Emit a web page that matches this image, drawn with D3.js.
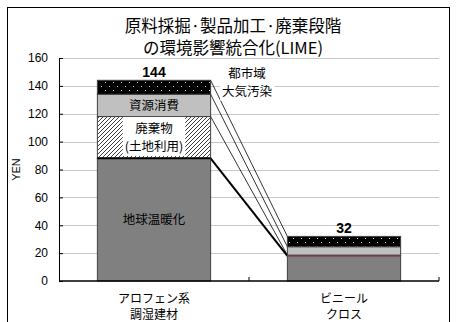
<!DOCTYPE html>
<html lang="ja">
<head>
  <meta charset="UTF-8">
  <title>LIME</title>
  <style>
    html, body { margin: 0; padding: 0; background: #fff; overflow: hidden; }
    svg { display: block; }
  </style>
</head>
<body>
  <svg id="chart" width="456" height="322"></svg>

  <script src="https://cdnjs.cloudflare.com/ajax/libs/d3/7.8.5/d3.min.js"></script>
  <script>
    // --- data ---
    const categories = ["アロフェン系\n調湿建材", "ビニール\nクロス"];
    const seriesNames = ["地球温暖化", "廃棄物\n(土地利用)", "資源消費", "都市域\n大気汚染"];
    const warming   = [88, 18];
    const waste     = [30, 0.6];
    const resources = [16, 6];
    const airPoll   = [10, 7.4];
    const totals    = [144, 32];
    const yTicks    = [0, 20, 40, 60, 80, 100, 120, 140, 160];

    const JP = "'Noto Sans CJK JP', sans-serif";
    const NUM = "'Liberation Sans', Arial, sans-serif";

    const W = 456, H = 322;
    const margin = { left: 59, right: 17, top: 58, bottom: 41 };

    const svg = d3.select("#chart");
    const defs = svg.append("defs");

    // hatch for 廃棄物
    const hatch = defs.append("pattern")
      .attr("id", "hatch").attr("patternUnits", "userSpaceOnUse")
      .attr("width", 4).attr("height", 4);
    hatch.append("rect").attr("width", 4).attr("height", 4).attr("fill", "#fff");
    hatch.append("path").attr("d", "M-1,1 l2,-2 M0,4 l4,-4 M3,5 l2,-2")
      .attr("stroke", "#404040").attr("stroke-width", 1);

    // dotted black for 大気汚染
    const dots = defs.append("pattern")
      .attr("id", "dots").attr("patternUnits", "userSpaceOnUse")
      .attr("width", 8).attr("height", 8);
    dots.append("rect").attr("width", 8).attr("height", 8).attr("fill", "#000");
    dots.append("rect").attr("x", 1).attr("y", 2).attr("width", 1).attr("height", 1).attr("fill", "#ddd");
    dots.append("rect").attr("x", 5).attr("y", 6).attr("width", 1).attr("height", 1).attr("fill", "#ddd");

    const fills = ["#808080", "url(#hatch)", "#c0c0c0", "url(#dots)"];

    // outer frame
    svg.append("rect")
      .attr("x", 7.5).attr("y", 7.5).attr("width", 442).attr("height", 330)
      .attr("fill", "none").attr("stroke", "#000").attr("stroke-width", 1);

    const x = d3.scaleBand()
      .domain(categories)
      .range([margin.left, W - margin.right])
      .paddingInner(0.404).paddingOuter(0.202);

    const y = d3.scaleLinear()
      .domain([0, 160])
      .range([H - margin.bottom, margin.top]);

    // gridlines
    svg.append("g")
      .selectAll("line")
      .data(yTicks.filter(d => d > 0))
      .join("line")
      .attr("x1", margin.left).attr("x2", W - margin.right)
      .attr("y1", d => Math.round(y(d)) + 0.5).attr("y2", d => Math.round(y(d)) + 0.5)
      .attr("stroke", "#c8c8c8").attr("stroke-width", 1);

    // stack
    const table = categories.map((c, i) => ({
      cat: c, s0: warming[i], s1: waste[i], s2: resources[i], s3: airPoll[i]
    }));
    const keys = ["s0", "s1", "s2", "s3"];
    const stacked = d3.stack().keys(keys)(table);

    // series lines (between the two bars)
    const b0 = categories[0], b1 = categories[1];
    svg.append("g")
      .selectAll("line")
      .data(stacked)
      .join("line")
      .attr("x1", x(b0) + x.bandwidth()).attr("y1", s => y(s[0][1]))
      .attr("x2", x(b1)).attr("y2", s => y(s[1][1]))
      .attr("stroke", "#000")
      .attr("stroke-width", (s, i) => i === 0 ? 2 : 0.8);

    // bars
    const gBars = svg.append("g");
    stacked.forEach((s, si) => {
      gBars.selectAll(null)
        .data(s)
        .join("rect")
        .attr("x", d => x(d.data.cat))
        .attr("y", d => y(d[1]))
        .attr("width", x.bandwidth())
        .attr("height", d => y(d[0]) - y(d[1]))
        .attr("fill", fills[si])
        .attr("stroke", (d, i) => (si === 1 && i === 1) ? "#b0306a" : "#404040")
        .attr("stroke-width", 1);
    });
    // thick boundary on top of 地球温暖化 in bar 1
    svg.append("line")
      .attr("x1", x(b0)).attr("x2", x(b0) + x.bandwidth())
      .attr("y1", y(warming[0])).attr("y2", y(warming[0]))
      .attr("stroke", "#000").attr("stroke-width", 2);

    // axes
    const yAxis = svg.append("g").attr("transform", `translate(${margin.left},0)`)
      .call(d3.axisLeft(y).tickValues(yTicks).tickSize(-4).tickPadding(11));
    yAxis.select(".domain").attr("stroke", "#000");
    yAxis.selectAll(".tick line").attr("stroke", "#000");
    yAxis.selectAll("text").attr("font-family", NUM).attr("font-size", 12).attr("fill", "#000");

    const base = y(0);
    svg.append("line")
      .attr("x1", margin.left).attr("x2", W - margin.right)
      .attr("y1", base).attr("y2", base)
      .attr("stroke", "#000").attr("stroke-width", 1.5);
    const bounds = [margin.left, (x(b0) + x.bandwidth() + x(b1)) / 2, W - margin.right];
    svg.append("g").selectAll("line").data(bounds.slice(1))
      .join("line")
      .attr("x1", d => d).attr("x2", d => d)
      .attr("y1", base).attr("y2", base - 4)
      .attr("stroke", "#000");

    // category labels
    categories.forEach(c => {
      const t = svg.append("text")
        .attr("x", x(c) + x.bandwidth() / 2)
        .attr("y", base + 22)
        .attr("text-anchor", "middle")
        .attr("font-family", JP).attr("font-size", 12).attr("fill", "#000");
      c.split("\n").forEach((line, i) => {
        t.append("tspan").attr("x", x(c) + x.bandwidth() / 2)
          .attr("dy", i === 0 ? 0 : 15.5).text(line);
      });
    });

    // total labels
    svg.selectAll(".total")
      .data(totals)
      .join("text")
      .attr("class", "total")
      .attr("x", (d, i) => x(categories[i]) + x.bandwidth() / 2)
      .attr("y", d => y(d) - 3)
      .attr("text-anchor", "middle")
      .attr("font-family", NUM).attr("font-weight", "bold").attr("font-size", 14)
      .text(d => d);

    // segment labels (bar 1)
    function boxedLabel(text, cx, cy, withBox) {
      const g = svg.append("g");
      const lines = text.split("\n");
      const lh = 18;
      const t = g.append("text")
        .attr("text-anchor", "middle")
        .attr("font-family", JP).attr("font-size", 12.5).attr("fill", "#000");
      lines.forEach((l, i) => {
        t.append("tspan").attr("x", cx)
          .attr("y", cy + (i - (lines.length - 1) / 2) * lh + 4.5).text(l);
      });
      if (withBox) {
        const bb = t.node().getBBox();
        g.insert("rect", "text")
          .attr("x", bb.x - 2).attr("y", bb.y - 1)
          .attr("width", bb.width + 4).attr("height", bb.height + 2)
          .attr("fill", "#fff");
      }
    }
    const cx0 = x(b0) + x.bandwidth() / 2;
    boxedLabel(seriesNames[0], cx0, y(stacked[0][0][0] + warming[0] / 2));
    boxedLabel(seriesNames[1], cx0, y(stacked[1][0][0] + waste[0] / 2), true);
    boxedLabel(seriesNames[2], cx0, y(stacked[2][0][0] + resources[0] / 2));
    boxedLabel(seriesNames[3], 247, 82, true);

    // y axis title
    svg.append("text")
      .attr("transform", `translate(20,${y(80)}) rotate(-90)`)
      .attr("text-anchor", "middle")
      .attr("font-family", NUM).attr("font-size", 11)
      .text("YEN");

    // chart title
    const title = svg.append("text")
      .attr("text-anchor", "middle")
      .attr("font-family", JP).attr("font-size", 16.5).attr("fill", "#000");
    title.append("tspan").attr("x", 233).attr("y", 32).text("原料採掘·製品加工·廃棄段階");
    title.append("tspan").attr("x", 233).attr("y", 54).text("の環境影響統合化(LIME)");
  </script>
</body>
</html>
